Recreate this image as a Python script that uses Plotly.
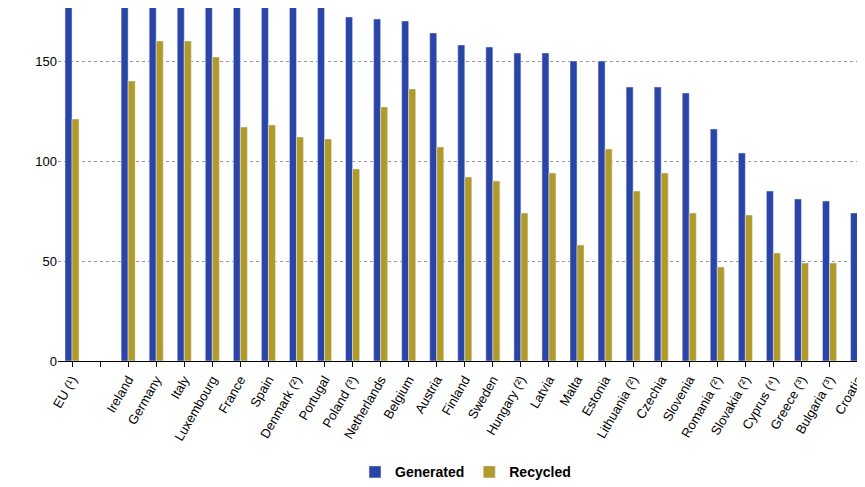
import plotly.graph_objects as go

countries = ["EU (¹)", " ", "Ireland", "Germany", "Italy", "Luxembourg", "France", "Spain",
             "Denmark (²)", "Portugal", "Poland (³)", "Netherlands", "Belgium", "Austria",
             "Finland", "Sweden", "Hungary (²)", "Latvia", "Malta", "Estonia", "Lithuania (²)",
             "Czechia", "Slovenia", "Romania (²)", "Slovakia (²)", "Cyprus (⁴)", "Greece (³)",
             "Bulgaria (³)", "Croatia", "Liechtenstein"]
generated = [178, None, 221, 225, 213, 211, 184, 182, 180, 177, 172, 171, 170, 164,
             158, 157, 154, 154, 150, 150, 137, 137, 134, 116, 104, 85, 81, 80, 74, 60]
recycled = [121, None, 140, 160, 160, 152, 117, 118, 112, 111, 96, 127, 136, 107,
            92, 90, 74, 94, 58, 106, 85, 94, 74, 47, 73, 54, 49, 49, 38, 30]

fig = go.Figure()
fig.add_trace(go.Bar(x=countries, y=generated, name="Generated", marker_color="#2a44a8"))
fig.add_trace(go.Bar(x=countries, y=recycled, name="Recycled", marker_color="#b09a2a"))

fig.update_layout(
    width=865, height=487,
    barmode="group", bargap=0.5, bargroupgap=0.0,
    plot_bgcolor="white", paper_bgcolor="white",
    font=dict(family="Liberation Sans, Arial", size=13, color="black"),
    margin=dict(l=50, r=0, t=0, b=134),
    legend=dict(orientation="h", x=0.5, xanchor="center", y=-0.27, yanchor="top",
                font=dict(size=14, weight="bold")),
    xaxis=dict(range=[-0.5, 28.55], tickangle=-60, showline=True, linecolor="black",
               ticks="outside", ticklen=5, tickcolor="black"),
    yaxis=dict(range=[0, 176.5], tickvals=[0, 50, 100, 150], showgrid=True,
               gridcolor="#999999", griddash="dot", zeroline=False, showline=False,
               ticks="", ticklen=8),
)

fig.write_html("out.html")
